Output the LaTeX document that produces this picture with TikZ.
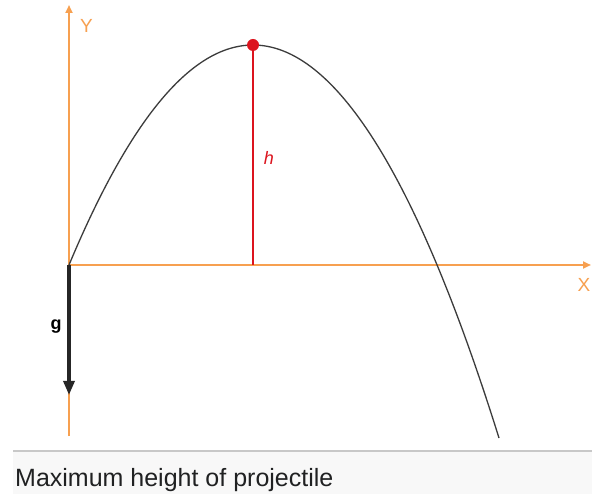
\documentclass[tikz,border=0pt]{standalone}
\usepackage{fontspec}
\setmainfont{Liberation Sans}
\usetikzlibrary{arrows.meta}
\definecolor{axisor}{RGB}{247,160,80}
\definecolor{hred}{RGB}{220,20,30}
\definecolor{curvegray}{RGB}{60,60,60}
\definecolor{captxt}{RGB}{32,33,34}
\definecolor{captbg}{RGB}{248,248,248}
\definecolor{captline}{RGB}{200,200,200}
\tikzset{
  axisline/.style={draw=axisor, line width=2.2pt},
  axistip/.style={-{Triangle[length=8pt,width=7pt]}},
  axislabel/.style={text=axisor, font=\fontsize{19}{19}\selectfont, inner sep=0pt},
  curveline/.style={draw=curvegray, line width=1.3pt},
  heightline/.style={draw=hred, line width=2.8pt},
  gvec/.style={draw=black!85, line width=3.2pt, -{Triangle[length=14pt,width=11pt]}},
}
\begin{document}
\begin{tikzpicture}[x=1pt,y=-1pt]
\useasboundingbox (0,0) rectangle (592,494);
\fill[white] (0,0) rectangle (592,494);
% caption
\fill[captbg] (13,451) rectangle (592,494);
\draw[captline, line width=1.2pt] (13,451) -- (592,451);
\node[anchor=base west, inner sep=0pt, text=captxt, font=\fontsize{25}{25}\selectfont] (cap) at (15,486) {Maximum height of projectile};
% coordinates
\coordinate (O) at (69,265);
\coordinate (Ytop) at (69,5);
\coordinate (Ybot) at (69,436);
\coordinate (Xend) at (591,265);
\coordinate (apex) at (253,45);
\coordinate (foot) at (253,265);
\coordinate (gtip) at (69,395);
\coordinate (cend) at (499,438);
% axes
\draw[axisline] (Ybot) -- (O);
\draw[axisline, axistip] (O) -- (Ytop);
\draw[axisline, axistip] (O) -- (Xend);
\node[axislabel, anchor=west] (ylab) at (80,26) {Y};
\node[axislabel, anchor=center] (xlab) at (584,285) {X};
% trajectory
\draw[curveline] (O) .. controls (212.33,-77.67) and (355.67,-20) .. (cend);
% height
\draw[heightline] (foot) -- (apex);
\fill[hred] (apex) circle (6pt);
\node[text=hred, font=\itshape\fontsize{18}{18}\selectfont, inner sep=0pt] (hlab) at (269,158) {h};
% gravity
\draw[gvec] (O) -- (gtip);
\node[font=\bfseries\fontsize{18}{18}\selectfont, inner sep=0pt] (glab) at (56,327) {g};
\end{tikzpicture}
\end{document}
